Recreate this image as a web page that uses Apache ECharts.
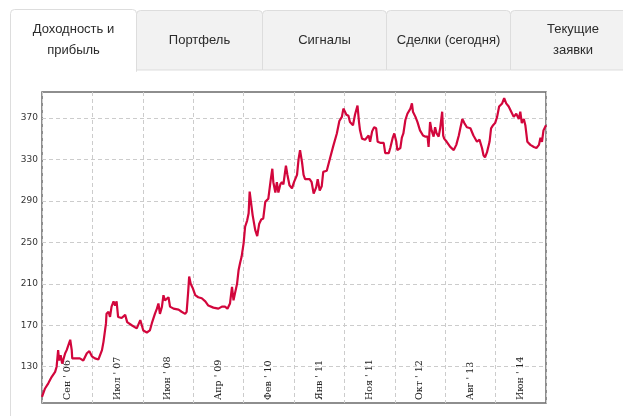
<!DOCTYPE html>
<html>
<head>
<meta charset="utf-8">
<script src="https://cdn.jsdelivr.net/npm/echarts@6/dist/echarts.min.js"></script>
<style>html,body{margin:0;padding:0;background:#fff;}#c{width:623px;height:416px;}</style>
</head>
<body>
<div id="c"></div>
<script>
// Tab titles
const tabLabels = ["Доходность и\nприбыль", "Портфель", "Сигналы", "Сделки (сегодня)", "Текущие\nзаявки"];
// X axis period labels (centre of each band)
const xLabels = ["Сен ' 06", "Июл ' 07", "Июн ' 08", "Апр ' 09", "Фев ' 10", "Янв ' 11", "Ноя ' 11", "Окт ' 12", "Авг ' 13", "Июн ' 14"];
// Y tick labels
const yTicks = [130, 170, 210, 250, 290, 330, 370];
// position along the time axis (in label-band units, 0..10)
const xPos = [0.00,0.06,0.125,0.19,0.26,0.29,0.32,0.34,0.37,0.40,0.46,0.49,0.56,0.59,0.60,0.66,0.75,0.82,0.89,0.94,0.99,1.05,1.12,1.15,1.19,1.22,1.27,1.28,1.32,1.35,1.38,1.42,1.45,1.48,1.51,1.58,1.65,1.69,1.78,1.88,1.95,1.98,2.01,2.08,2.14,2.18,2.24,2.28,2.31,2.34,2.38,2.41,2.44,2.51,2.54,2.61,2.71,2.77,2.84,2.87,2.90,2.92,2.95,2.99,3.04,3.10,3.17,3.24,3.30,3.40,3.50,3.57,3.63,3.68,3.73,3.77,3.80,3.83,3.87,3.90,3.93,3.96,4.00,4.03,4.07,4.10,4.12,4.14,4.18,4.23,4.27,4.31,4.35,4.39,4.43,4.49,4.54,4.57,4.59,4.63,4.66,4.69,4.73,4.76,4.79,4.84,4.87,4.91,4.96,5.00,5.06,5.09,5.12,5.16,5.19,5.22,5.31,5.35,5.39,5.44,5.47,5.51,5.55,5.58,5.65,5.72,5.78,5.85,5.90,5.95,5.98,6.04,6.08,6.11,6.17,6.21,6.26,6.29,6.31,6.35,6.41,6.48,6.51,6.55,6.59,6.63,6.66,6.71,6.78,6.81,6.88,6.91,6.96,6.99,7.03,7.05,7.11,7.14,7.17,7.21,7.25,7.31,7.34,7.36,7.41,7.45,7.50,7.56,7.60,7.65,7.67,7.70,7.73,7.77,7.80,7.83,7.87,7.90,7.94,7.96,7.98,8.03,8.10,8.17,8.22,8.27,8.30,8.34,8.38,8.43,8.50,8.56,8.63,8.68,8.73,8.76,8.79,8.83,8.88,8.91,8.95,8.99,9.03,9.07,9.13,9.17,9.21,9.26,9.31,9.36,9.41,9.46,9.49,9.52,9.56,9.59,9.63,9.69,9.76,9.81,9.86,9.89,9.92,9.95,10.00];
// equity values
const values = [101,109,114,120,125,130,146,136,141,133,143,146,156,146,138,138,138,136,143,145,140,138,137,136,146,154,172,181,183,178,188,193,189,193,178,177,180,173,170,167,175,170,165,163,165,172,181,186,191,181,188,199,194,197,188,186,185,183,181,183,202,217,210,206,199,197,196,193,189,187,186,188,188,186,191,207,194,201,210,223,230,236,249,265,271,278,299,300,276,262,256,268,272,273,289,292,311,321,308,298,308,298,306,308,306,324,315,305,302,308,315,330,339,327,315,311,311,308,297,303,311,300,304,318,319,332,343,355,367,371,379,373,372,366,363,373,382,366,358,350,349,353,347,357,361,360,347,346,346,336,336,341,351,355,347,339,341,351,355,368,374,379,384,376,371,366,358,353,352,352,342,366,358,352,361,355,352,360,376,353,350,347,342,339,344,353,360,369,365,361,360,353,347,349,341,334,332,337,347,360,363,365,371,381,384,389,384,381,376,371,374,369,376,365,369,363,347,344,342,341,344,351,347,358,363];

const seriesData = xPos.map((x, i) => [x, values[i]]);

// Tab geometry
const tabX = [10, 136, 262, 386, 510];
const tabW = [126, 126, 124, 124, 125];
const graphics = [];
graphics.push({type:'line', shape:{x1:10.5,y1:70,x2:10.5,y2:416}, style:{stroke:'#dddddd', lineWidth:1}, silent:true});
tabLabels.forEach((t, i) => {
  const active = i === 0;
  graphics.push({
    type:'rect', z:1,
    shape:{x:tabX[i]+0.5, y:active?9.5:10.5, width:tabW[i], height:active?62:59.5, r:[4,4,0,0]},
    style:{fill: active?'#ffffff':'#f2f2f2', stroke:'#dddddd', lineWidth:1},
    silent:true
  });
  if (active) {
    graphics.push({type:'rect', z:2, shape:{x:tabX[i]+1, y:68, width:tabW[i]-1, height:6}, style:{fill:'#ffffff'}, silent:true});
  }
  graphics.push({
    type:'text', z:3,
    x: tabX[i] + tabW[i]/2 + 0.5, y: 40,
    style:{text:t, fill:'#2b2b2b', font:'13px "Liberation Sans", Arial, sans-serif', align:'center', verticalAlign:'middle', lineHeight:21},
    silent:true
  });
});

const chart = echarts.init(document.getElementById('c'), null, {renderer:'canvas'});
chart.setOption({
  animation:false,
  backgroundColor:'#ffffff',
  grid:{left:42, top:92, right:77, bottom:13, show:true, borderColor:'#6a6a6a', borderWidth:1.5, backgroundColor:'transparent'},
  xAxis:{
    type:'value', min:0, max:10, interval:1,
    axisLine:{show:false}, axisTick:{show:false},
    splitLine:{show:true, lineStyle:{color:'#cccccc', type:[4,3], width:1}},
    axisLabel:{
      customValues: xLabels.map((_, i) => i + 0.5),
      formatter: v => xLabels[Math.floor(v)],
      inside:true, rotate:90, margin:3,
      color:'#222222', fontSize:9.5, fontFamily:'"DejaVu Serif", serif'
    }
  },
  yAxis:{
    type:'value', min:95, max:395,
    axisLine:{show:false},
    axisTick:{show:false, customValues: yTicks},
    splitLine:{show:true, lineStyle:{color:'#cccccc', type:[4,3], width:1}},
    axisLabel:{customValues: yTicks, margin:4, color:'#333333', fontSize:9, fontFamily:'"DejaVu Sans", Verdana, sans-serif'}
  },
  series:[{
    type:'line', data:seriesData, showSymbol:false, symbol:'none',
    lineStyle:{color:'#d2063c', width:2.2}, clip:true
  }],
  graphic: graphics
});
</script>
</body>
</html>
